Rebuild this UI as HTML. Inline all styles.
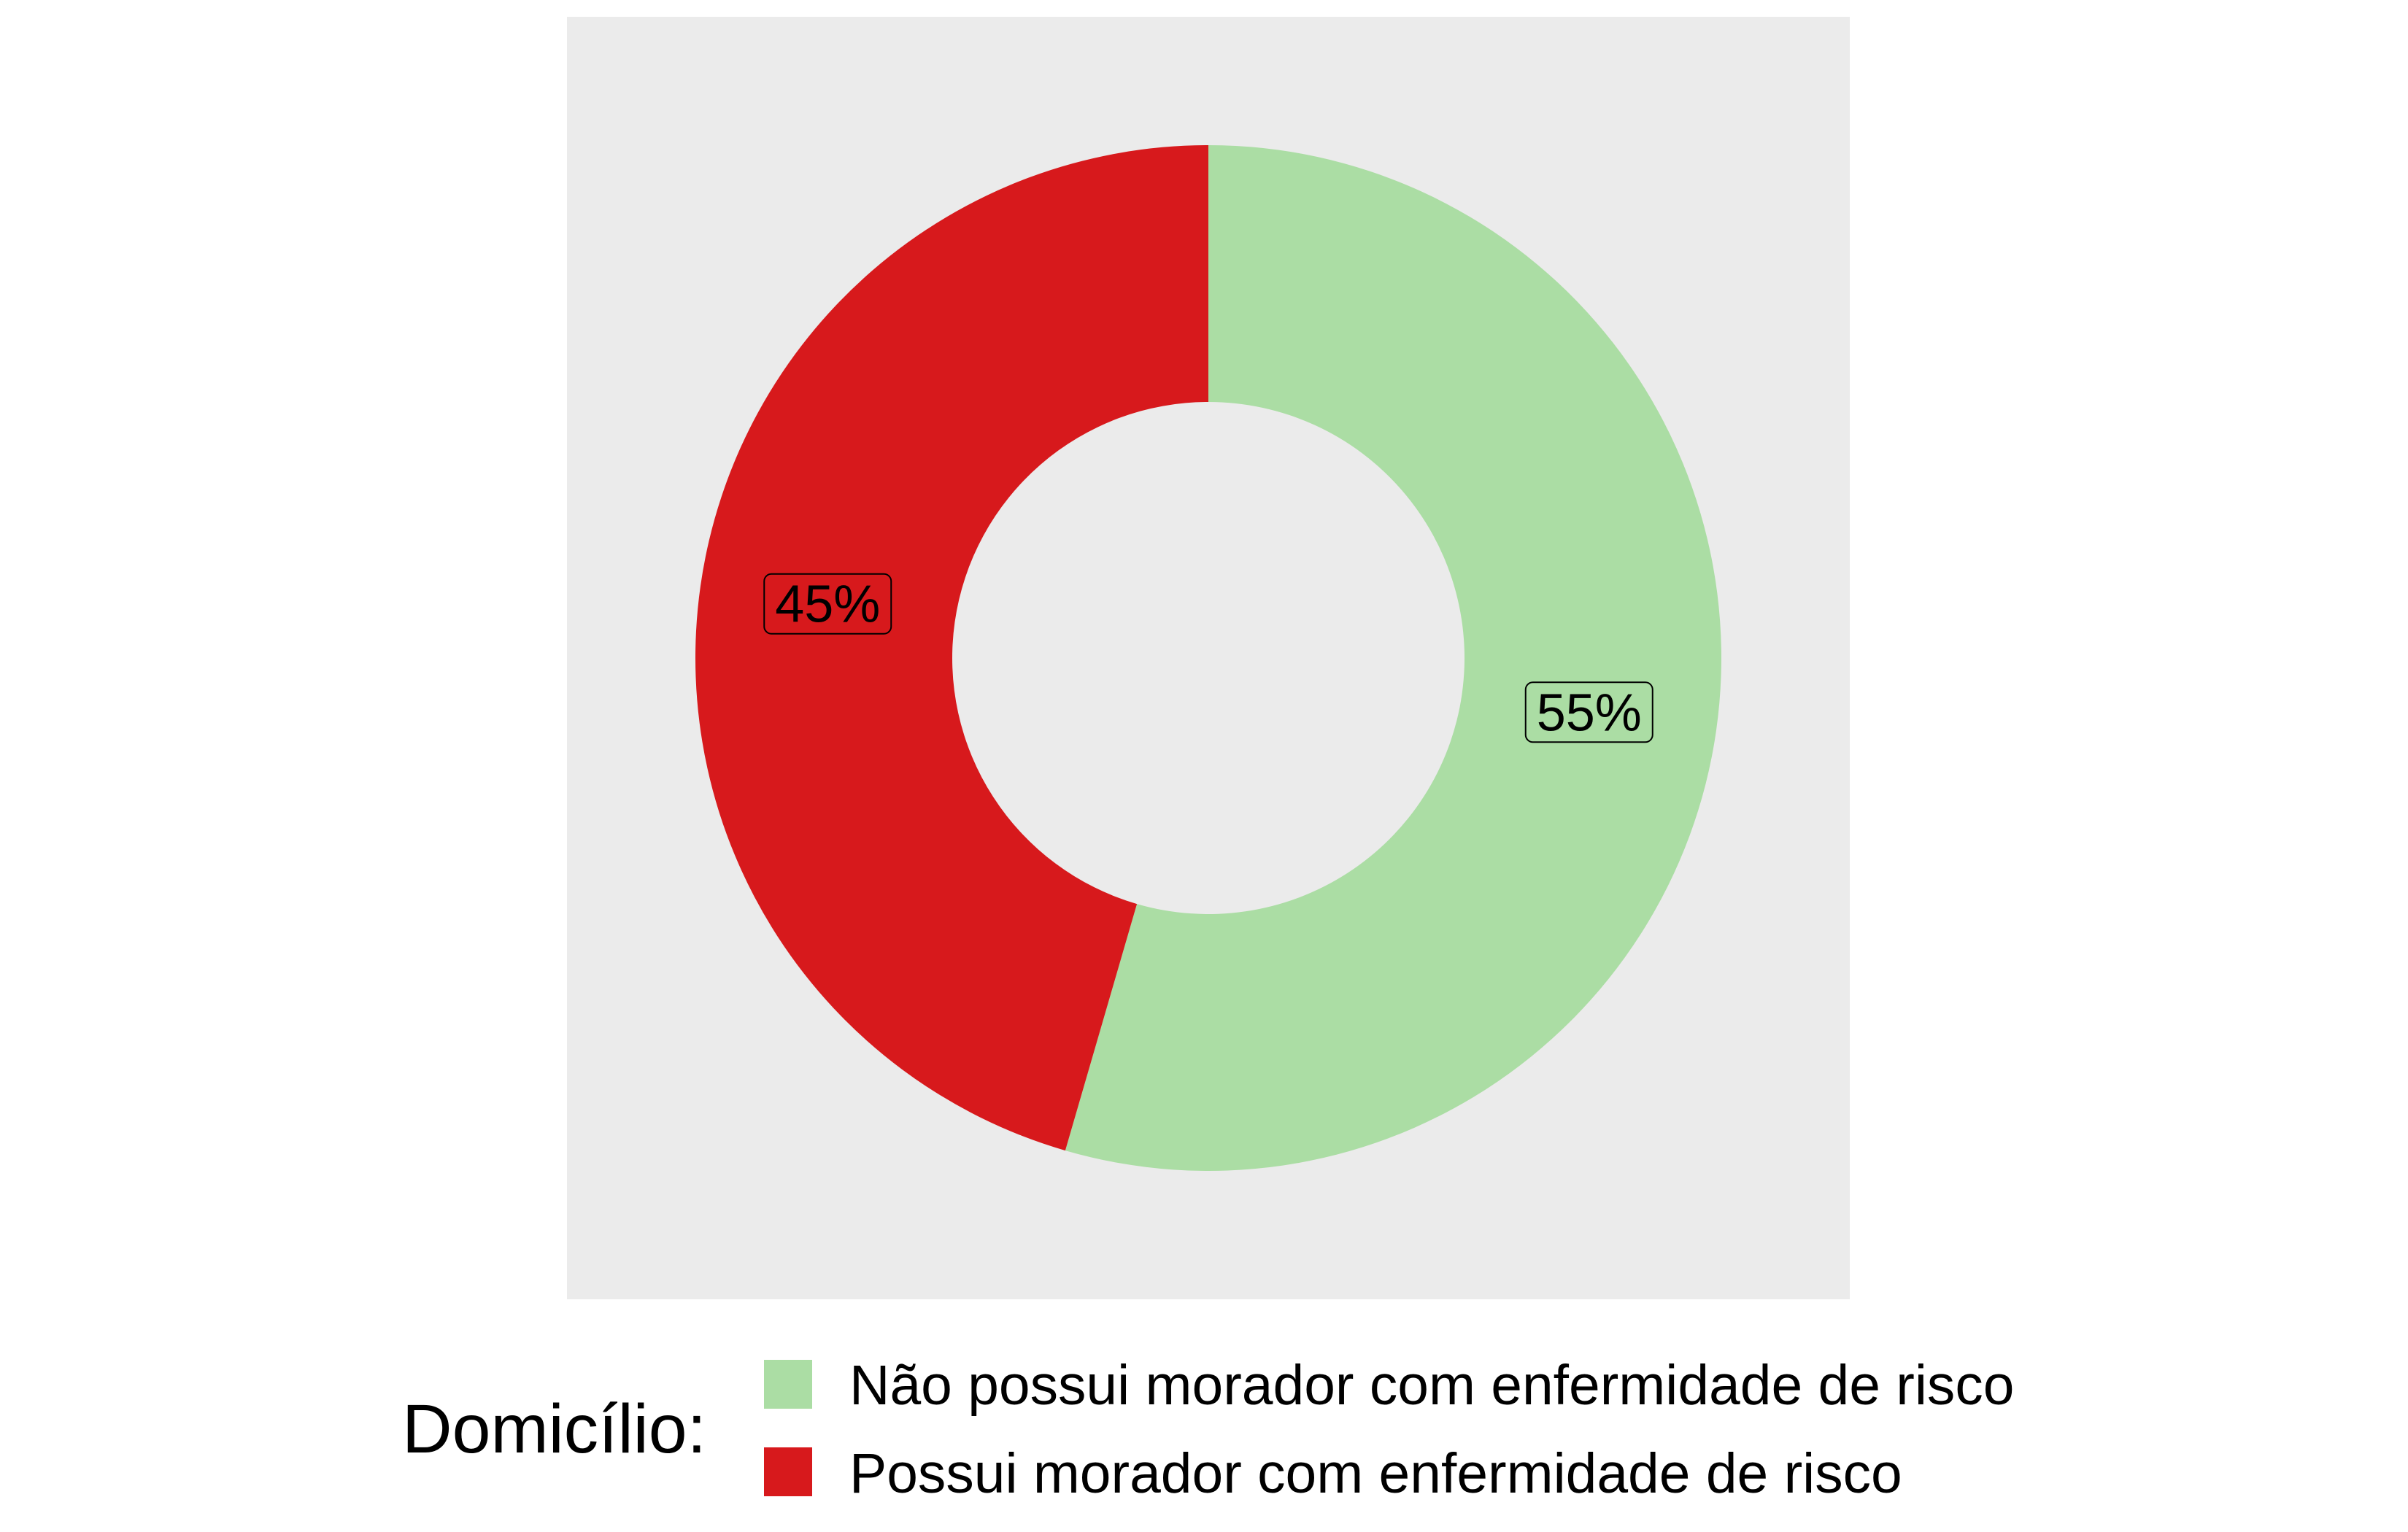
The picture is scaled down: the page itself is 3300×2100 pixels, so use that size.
<!DOCTYPE html>
<html lang="pt">
<head>
<meta charset="utf-8">
<title>Domicílio donut chart</title>
<style>
  html, body { margin: 0; padding: 0; background: #ffffff; }
  body { width: 3300px; height: 2100px; overflow: hidden; }
  svg { display: block; }
  text { font-family: "Liberation Sans", sans-serif; fill: #000000; }
</style>
</head>
<body>
<svg id="chart" xmlns="http://www.w3.org/2000/svg" width="3300" height="2100" viewBox="0 0 3300 2100">
  <rect x="0" y="0" width="3300" height="2100" fill="#ffffff"></rect>
  <rect x="777" y="23" width="1758" height="1758" fill="#ebebeb"></rect>
  <g id="slices"></g>
  <g id="labels"></g>
  <g id="legend">
    <text x="551" y="1991" font-size="95">Domicílio:</text>
  </g>
</svg>
<script>
const categories = ["Não possui morador com enfermidade de risco", "Possui morador com enfermidade de risco"];
const shares = [54.5, 45.5];
const valueLabels = ["55%", "45%"];
const colors = ["#abdda4", "#d7191c"];

const NS = "http://www.w3.org/2000/svg";
const cx = 1656, cy = 902, rOuter = 703, rInner = 351;
const total = shares.reduce(function (a, b) { return a + b; }, 0);

function angleOf(cumulative) { return cumulative / total * 2 * Math.PI; }
function px(r, a) { return cx + r * Math.sin(a); }
function py(r, a) { return cy - r * Math.cos(a); }

function arcPath(a0, a1) {
  const large = a1 - a0 > Math.PI ? 1 : 0;
  return "M" + px(rOuter, a0) + " " + py(rOuter, a0) +
    "A" + rOuter + " " + rOuter + " 0 " + large + " 1 " + px(rOuter, a1) + " " + py(rOuter, a1) +
    "L" + px(rInner, a1) + " " + py(rInner, a1) +
    "A" + rInner + " " + rInner + " 0 " + large + " 0 " + px(rInner, a0) + " " + py(rInner, a0) + "Z";
}

const slicesGroup = document.getElementById("slices");
const labelsGroup = document.getElementById("labels");
const legendGroup = document.getElementById("legend");
const boxW = 174, boxH = 82, rMid = (rOuter + rInner) / 2;
const legendKeyX = 1047, legendKeyTop = 1864, legendStep = 120, legendKeyW = 66, legendKeyH = 67;
const legendTextX = 1164, legendBaselineOffset = 61;

let cumulative = 0;
shares.forEach(function (value, i) {
  const a0 = angleOf(cumulative);
  const a1 = angleOf(cumulative + value);
  const mid = (a0 + a1) / 2;
  cumulative += value;

  const slice = document.createElementNS(NS, "path");
  slice.setAttribute("d", arcPath(a0, a1));
  slice.setAttribute("fill", colors[i]);
  
  
  slicesGroup.appendChild(slice);

  const lx = px(rMid, mid);
  const ly = py(rMid, mid);

  const box = document.createElementNS(NS, "rect");
  box.setAttribute("x", lx - boxW / 2);
  box.setAttribute("y", ly - boxH / 2);
  box.setAttribute("width", boxW);
  box.setAttribute("height", boxH);
  box.setAttribute("rx", 10);
  box.setAttribute("ry", 10);
  box.setAttribute("fill", colors[i]);
  box.setAttribute("stroke", "#000000");
  box.setAttribute("stroke-width", 2);
  
  
  labelsGroup.appendChild(box);

  const label = document.createElementNS(NS, "text");
  label.setAttribute("x", lx);
  label.setAttribute("y", ly + 25);
  label.setAttribute("font-size", 72);
  label.setAttribute("text-anchor", "middle");
  label.textContent = valueLabels[i];
  
  
  labelsGroup.appendChild(label);

  const key = document.createElementNS(NS, "rect");
  key.setAttribute("x", legendKeyX);
  key.setAttribute("y", legendKeyTop + i * legendStep);
  key.setAttribute("width", legendKeyW);
  key.setAttribute("height", legendKeyH);
  key.setAttribute("fill", colors[i]);
  
  
  legendGroup.appendChild(key);

  const entry = document.createElementNS(NS, "text");
  entry.setAttribute("x", legendTextX);
  entry.setAttribute("y", legendKeyTop + i * legendStep + legendBaselineOffset + (i === 0 ? 0 : 1));
  entry.setAttribute("font-size", 76.8);
  entry.textContent = categories[i];
  
  
  legendGroup.appendChild(entry);
});
</script>
</body>
</html>
